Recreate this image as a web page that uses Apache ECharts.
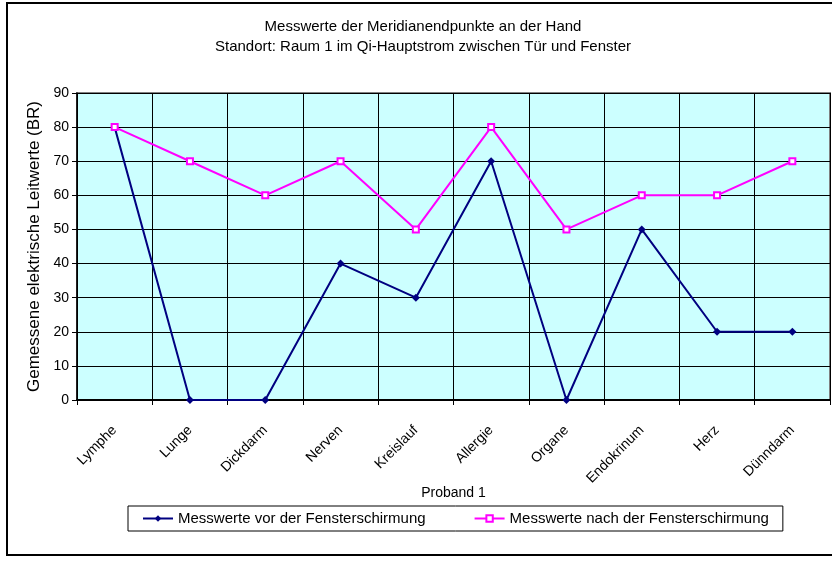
<!DOCTYPE html>
<html>
<head>
<meta charset="utf-8">
<script src="https://cdn.jsdelivr.net/npm/echarts@6/dist/echarts.min.js"></script>
<style>
  html, body { margin: 0; padding: 0; background: #fff; }
  #chart { width: 832px; height: 562px; }
</style>
</head>
<body>
<div id="chart"></div>
<script>
  // Kategorien (Meridianendpunkte)
  var categories = ['Lymphe', 'Lunge', 'Dickdarm', 'Nerven', 'Kreislauf', 'Allergie', 'Organe', 'Endokrinum', 'Herz', 'Dünndarm'];
  // Messwerte
  var vorher = [80, 0, 0, 40, 30, 70, 0, 50, 20, 20];
  var nachher = [80, 70, 60, 70, 50, 80, 50, 60, 60, 70];
  var seriesNames = ['Messwerte vor der Fensterschirmung', 'Messwerte nach der Fensterschirmung'];

  var chart = echarts.init(document.getElementById('chart'));
  var font = 'Liberation Sans, Arial, sans-serif';

  var option = {
    animation: false,
    textStyle: { fontFamily: font, color: '#000' },
    title: {
      text: 'Messwerte der Meridianendpunkte an der Hand\nStandort: Raum 1 im Qi-Hauptstrom zwischen Tür und Fenster',
      left: 418,
      top: 12,
      textAlign: 'center',
      textStyle: { fontSize: 15, fontWeight: 'normal', lineHeight: 20, color: '#000', fontFamily: font }
    },
    graphic: [{
      type: 'rect',
      shape: { x: 7, y: 3, width: 840, height: 552 },
      style: { fill: 'none', stroke: '#000', lineWidth: 2 },
      z: -10
    }],
    legend: {
      bottom: 31,
      left: 128,
      data: seriesNames,
      itemWidth: 30,
      itemHeight: 8,
      itemGap: 48,
      padding: [5, 14],
      borderColor: '#000',
      borderWidth: 1,
      textStyle: { fontSize: 15, color: '#000', fontFamily: font }
    },
    grid: {
      left: 77, right: 2, top: 93, bottom: 162,
      show: true,
      backgroundColor: '#ccffff',
      borderColor: '#808080',
      borderWidth: 2
    },
    xAxis: {
      type: 'category',
      data: categories,
      boundaryGap: true,
      name: 'Proband 1',
      nameLocation: 'middle',
      nameGap: 86,
      nameMoveOverlap: false,
      nameTextStyle: { fontSize: 14, color: '#000' },
      axisLine: { lineStyle: { color: '#000', width: 2 } },
      axisTick: { show: true, alignWithLabel: false, length: 5, lineStyle: { color: '#000' } },
      axisLabel: {
        rotate: 45, fontSize: 14, color: '#000', margin: 28,
        align: 'right', verticalAlign: 'middle'
      },
      splitLine: { show: true, lineStyle: { color: '#000', width: 1 } }
    },
    yAxis: {
      type: 'value',
      min: 0, max: 90, interval: 10,
      name: 'Gemessene elektrische Leitwerte (BR)',
      nameLocation: 'middle',
      nameGap: 33,
      nameTextStyle: { fontSize: 17, color: '#000' },
      axisLine: { show: true, lineStyle: { color: '#000', width: 1.5 } },
      axisTick: { show: true, length: 5, lineStyle: { color: '#000' } },
      axisLabel: { fontSize: 14, color: '#000', margin: 8 },
      splitLine: { show: true, lineStyle: { color: '#000', width: 1 } }
    },
    series: [
      {
        name: seriesNames[0],
        type: 'line',
        data: vorher,
        symbol: 'diamond',
        symbolSize: 8,
        lineStyle: { color: '#000080', width: 2 },
        itemStyle: { color: '#000080' }
      },
      {
        name: seriesNames[1],
        type: 'line',
        data: nachher,
        symbol: 'emptyRect',
        symbolSize: 6,
        lineStyle: { color: '#ff00ff', width: 2 },
        itemStyle: { color: '#ff00ff', borderColor: '#ff00ff', borderWidth: 1.5 }
      }
    ]
  };
  chart.setOption(option);
</script>
</body>
</html>
